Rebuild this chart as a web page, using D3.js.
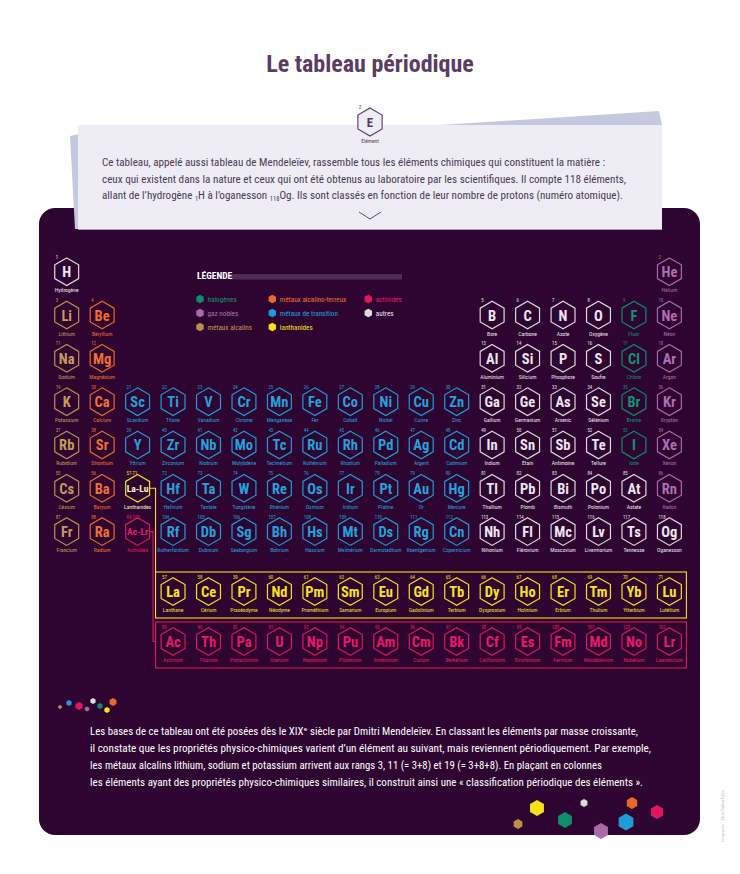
<!DOCTYPE html>
<html>
<head>
<meta charset="utf-8">
<script src="https://cdn.jsdelivr.net/npm/d3@7"></script>
<style>
body { margin: 0; background: #fff; }
svg { display: block; }
text { font-family: 'Liberation Sans Narrow', 'Roboto Condensed', 'DejaVu Sans Condensed', sans-serif; }
</style>
</head>
<body>
<svg id="chart" width="740" height="874"></svg>
<script>
// symboles dans l'ordre du numéro atomique
var symbols = ["H","He","Li","Be","B","C","N","O","F","Ne","Na","Mg","Al","Si","P","S","Cl","Ar",
  "K","Ca","Sc","Ti","V","Cr","Mn","Fe","Co","Ni","Cu","Zn","Ga","Ge","As","Se","Br","Kr",
  "Rb","Sr","Y","Zr","Nb","Mo","Tc","Ru","Rh","Pd","Ag","Cd","In","Sn","Sb","Te","I","Xe",
  "Cs","Ba","La","Ce","Pr","Nd","Pm","Sm","Eu","Gd","Tb","Dy","Ho","Er","Tm","Yb","Lu",
  "Hf","Ta","W","Re","Os","Ir","Pt","Au","Hg","Tl","Pb","Bi","Po","At","Rn",
  "Fr","Ra","Ac","Th","Pa","U","Np","Pu","Am","Cm","Bk","Cf","Es","Fm","Md","No","Lr",
  "Rf","Db","Sg","Bh","Hs","Mt","Ds","Rg","Cn","Nh","Fl","Mc","Lv","Ts","Og"];
var names = ["Hydrogène","Hélium","Lithium","Béryllium","Bore","Carbone","Azote","Oxygène","Fluor","Néon",
  "Sodium","Magnésium","Aluminium","Silicium","Phosphore","Soufre","Chlore","Argon",
  "Potassium","Calcium","Scandium","Titane","Vanadium","Chrome","Manganèse","Fer","Cobalt","Nickel","Cuivre","Zinc",
  "Gallium","Germanium","Arsenic","Sélénium","Brome","Krypton",
  "Rubidium","Strontium","Yttrium","Zirconium","Niobium","Molybdène","Technétium","Ruthénium","Rhodium","Palladium",
  "Argent","Cadmium","Indium","Étain","Antimoine","Tellure","Iode","Xénon",
  "Césium","Baryum","Lanthane","Cérium","Praséodyme","Néodyme","Prométhium","Samarium","Europium","Gadolinium",
  "Terbium","Dysprosium","Holmium","Erbium","Thulium","Ytterbium","Lutétium",
  "Hafnium","Tantale","Tungstène","Rhénium","Osmium","Iridium","Platine","Or","Mercure",
  "Thallium","Plomb","Bismuth","Polonium","Astate","Radon",
  "Francium","Radium","Actinium","Thorium","Protactinium","Uranium","Neptunium","Plutonium","Américium","Curium",
  "Berkélium","Californium","Einsteinium","Fermium","Mendélévium","Nobélium","Lawrencium",
  "Rutherfordium","Dubnium","Seaborgium","Bohrium","Hassium","Meitnérium","Darmstadtium","Roentgenium","Copernicium",
  "Nihonium","Flérovium","Moscovium","Livermorium","Tennesse","Oganesson"];

var halogens = ["F","Cl","Br","I"];
var nobleGases = ["He","Ne","Ar","Kr","Xe","Rn"];
var alkaliMetals = ["Li","Na","K","Rb","Cs","Fr"];
var alkalineEarth = ["Be","Mg","Ca","Sr","Ba","Ra"];
var transitionMetals = ["Sc","Ti","V","Cr","Mn","Fe","Co","Ni","Cu","Zn","Y","Zr","Nb","Mo","Tc","Ru","Rh","Pd","Ag","Cd",
  "Hf","Ta","W","Re","Os","Ir","Pt","Au","Hg","Rf","Db","Sg","Bh","Hs","Mt","Ds","Rg","Cn"];
var lanthanides = ["La","Ce","Pr","Nd","Pm","Sm","Eu","Gd","Tb","Dy","Ho","Er","Tm","Yb","Lu"];
var actinides = ["Ac","Th","Pa","U","Np","Pu","Am","Cm","Bk","Cf","Es","Fm","Md","No","Lr"];

// légende
var legendKeys = ["hal","nob","alk","ear","tra","lan","act","oth"];
var legendLabels = ["halogènes","gaz nobles","métaux alcalins","métaux alcalino-terreux","métaux de transition","lanthanides","actinides","autres"];
var legendColors = ["#0f8c6c","#a96aa8","#b8924c","#e8672a","#1f9bd7","#f6e21c","#e0155c","#dcdcdc"];
var textColors  = ["#12946f","#b06fae","#c49c58","#ef7030","#24a2dd","#f6e21c","#e8186a","#ece6ee"];

// cases de renvoi
var blockSymbols = ["La-Lu","Ac-Lr"];
var blockNumbers = ["57-71","89-103"];
var blockNames = ["Lanthanides","Actinides"];

var introLines = [
  "Ce tableau, appelé aussi tableau de Mendeleïev, rassemble tous les éléments chimiques qui constituent la matière :",
  "ceux qui existent dans la nature et ceux qui ont été obtenus au laboratoire par les scientifiques. Il compte 118 éléments,",
  ["allant de l’hydrogène ", "1", "H à l’oganesson ", "118", "Og. Ils sont classés en fonction de leur nombre de protons (numéro atomique)."]
];
var outroLines = [
  "Les bases de ce tableau ont été posées dès le XIXᵉ siècle par Dmitri Mendeleïev. En classant les éléments par masse croissante,",
  "il constate que les propriétés physico-chimiques varient d’un élément au suivant, mais reviennent périodiquement. Par exemple,",
  "les métaux alcalins lithium, sodium et potassium arrivent aux rangs 3, 11 (= 3+8) et 19 (= 3+8+8). En plaçant en colonnes",
  "les éléments ayant des propriétés physico-chimiques similaires, il construit ainsi une « classification périodique des éléments »."
];
var introWidths = [503, 524, 521];
var outroWidths = [548, 561, 512, 553];

// petits hexagones décoratifs : [x, y, rayon, catégorie]
var decoTop = [[60,707,2,"alk"],[69,703,3,"tra"],[79,706,4,"act"],[87,709,2.5,"nob"],[93,701,3,"oth"],[100,706,3,"hal"],[107,710,3,"lan"],[113,702,4,"ear"]];
var decoBottom = [[518,824,5,"alk"],[537,808,8,"lan"],[565,820,8,"hal"],[584,803,4,"oth"],[601,831,8,"nob"],[626,822,8.5,"tra"],[632,803,6,"ear"],[657,812,7,"act"]];

var svg = d3.select("#chart");
var catColor = d3.scaleOrdinal().domain(legendKeys).range(legendColors);
var catText = d3.scaleOrdinal().domain(legendKeys).range(textColors);

function category(s) {
  if (halogens.indexOf(s) >= 0) return "hal";
  if (nobleGases.indexOf(s) >= 0) return "nob";
  if (alkaliMetals.indexOf(s) >= 0) return "alk";
  if (alkalineEarth.indexOf(s) >= 0) return "ear";
  if (transitionMetals.indexOf(s) >= 0) return "tra";
  if (lanthanides.indexOf(s) >= 0) return "lan";
  if (actinides.indexOf(s) >= 0) return "act";
  return "oth";
}

// ligne / colonne dans le tableau
function place(z) {
  if (z == 1) return [1, 1];
  if (z == 2) return [1, 18];
  if (z <= 10) return [2, z <= 4 ? z - 2 : z + 8];
  if (z <= 18) return [3, z <= 12 ? z - 10 : z];
  if (z <= 36) return [4, z - 18];
  if (z <= 54) return [5, z - 36];
  if (z <= 56) return [6, z - 54];
  if (z <= 71) return [8, z - 53];
  if (z <= 86) return [6, z - 68];
  if (z <= 88) return [7, z - 86];
  if (z <= 103) return [9, z - 85];
  return [7, z - 100];
}

var x = d3.scaleLinear().domain([1, 18]).range([66.7, 669.4]);
var y = d3.scaleLinear().domain([1, 7]).range([271.7, 531.6]);
var yF = d3.scaleLinear().domain([8, 9]).range([591.5, 641.5]);
function rowY(r) { return r <= 7 ? y(r) : yF(r); }

function hex(r) {
  var pts = d3.range(6).map(function(i) {
    var a = Math.PI / 180 * (60 * i - 90);
    return [r * Math.cos(a), r * Math.sin(a)];
  });
  return "M" + pts.join("L") + "Z";
}

// titre
svg.append("text").attr("x", 370).attr("y", 72).attr("text-anchor", "middle")
  .attr("font-size", 24).attr("font-weight", "bold").attr("fill", "#5b3c62")
  .text("Le tableau périodique");

// panneau sombre
svg.append("rect").attr("x", 39).attr("y", 208).attr("width", 661).attr("height", 627)
  .attr("rx", 16).attr("fill", "#2d0530");

// carte d'introduction
svg.append("polygon").attr("points", "70,136 80,134 80,229 75,229").attr("fill", "#c5c9df");
svg.append("polygon").attr("points", "440,125 659,111 662,125").attr("fill", "#c5c9df");
svg.append("rect").attr("x", 78).attr("y", 125).attr("width", 584).attr("height", 104)
  .attr("fill", "#eeecf5");
svg.append("line").attr("x1", 78).attr("x2", 662).attr("y1", 229.5).attr("y2", 229.5)
  .attr("stroke", "#a89cb6").attr("stroke-width", 1);

var eKey = svg.append("g").attr("transform", "translate(370,122)");
eKey.append("path").attr("d", hex(14)).attr("fill", "#eeecf5").attr("stroke", "#5b3c62").attr("stroke-width", 1.1);
eKey.append("text").attr("y", 5).attr("text-anchor", "middle").attr("font-size", 13).attr("font-weight", "bold")
  .attr("fill", "#5b3c62").text("E");
eKey.append("text").attr("x", -11).attr("y", -13).attr("font-size", 4.5).attr("fill", "#5b3c62").text("Z");
eKey.append("text").attr("y", 21).attr("text-anchor", "middle").attr("font-size", 5.5).attr("fill", "#5b3c62").text("Élément");

function writeLines(lines, widths, x0, y0, dy, color) {
  lines.forEach(function(line, i) {
    var t = svg.append("text").attr("x", x0).attr("y", y0 + i * dy)
      .attr("font-size", 11).attr("fill", color)
      .attr("textLength", widths[i]).attr("lengthAdjust", "spacingAndGlyphs");
    if (typeof line === "string") { t.text(line); return; }
    line.forEach(function(part, j) {
      var ts = t.append("tspan").text(part);
      if (j % 2 == 1) ts.attr("font-size", 6.5).attr("dy", 2);
      else if (j > 0) ts.attr("dy", -2);
    });
  });
}
writeLines(introLines, introWidths, 102, 166, 16.5, "#4b3a52");

svg.append("polyline").attr("points", "359,212 370,219 381,212").attr("fill", "none")
  .attr("stroke", "#5b4c74").attr("stroke-width", 1);

// éléments
var elements = symbols.map(function(s, i) {
  var p = place(i + 1);
  return { z: i + 1, sym: s, name: names[i], cat: category(s), row: p[0], col: p[1] };
});

var cells = svg.append("g").selectAll("g.el").data(elements).enter().append("g")
  .attr("class", "el")
  .attr("transform", function(d) { return "translate(" + x(d.col) + "," + rowY(d.row) + ")"; });
cells.append("path").attr("d", hex(13.8)).attr("fill", "none")
  .attr("stroke", function(d) { return catColor(d.cat); }).attr("stroke-width", 1.2);
cells.append("text").attr("y", 5.5).attr("text-anchor", "middle").attr("font-size", 14.5).attr("font-weight", "bold")
  .attr("fill", function(d) { return catText(d.cat); }).text(function(d) { return d.sym; });
cells.append("text").attr("x", -11).attr("y", -13).attr("font-size", 4.8)
  .attr("fill", function(d) { return catText(d.cat); }).text(function(d) { return d.z; });
cells.append("text").attr("y", 20.5).attr("text-anchor", "middle").attr("font-size", 5.6)
  .attr("fill", function(d) { return catText(d.cat); }).text(function(d) { return d.name; });

// cases La-Lu / Ac-Lr
var blocks = blockSymbols.map(function(s, i) {
  return { sym: s, num: blockNumbers[i], name: blockNames[i], cat: i == 0 ? "lan" : "act", row: 6 + i };
});
var bCells = svg.append("g").selectAll("g.blk").data(blocks).enter().append("g")
  .attr("transform", function(d) { return "translate(" + x(3) + "," + y(d.row) + ")"; });
bCells.append("path").attr("d", hex(13.8)).attr("fill", "none")
  .attr("stroke", function(d) { return catColor(d.cat); }).attr("stroke-width", 1.2);
bCells.append("text").attr("y", 3.5).attr("text-anchor", "middle").attr("font-size", 9.5).attr("font-weight", "bold")
  .attr("fill", function(d) { return d.cat == "lan" ? "#fff6c0" : catText(d.cat); }).text(function(d) { return d.sym; });
bCells.append("text").attr("x", -11).attr("y", -13).attr("font-size", 4.8)
  .attr("fill", function(d) { return catText(d.cat); }).text(function(d) { return d.num; });
bCells.append("text").attr("y", 20.5).attr("text-anchor", "middle").attr("font-size", 5.6)
  .attr("fill", function(d) { return d.cat == "lan" ? "#f4efd0" : catText(d.cat); }).text(function(d) { return d.name; });

// cadres des séries f
var boxL = x(4) - 17.5, boxR = x(18) + 17;
[["lan", 8], ["act", 9]].forEach(function(b) {
  svg.append("rect").attr("x", boxL).attr("y", yF(b[1]) - 19.5).attr("width", boxR - boxL).attr("height", 46)
    .attr("fill", "none").attr("stroke", catColor(b[0])).attr("stroke-width", 1.1);
});
svg.append("polyline").attr("fill", "none").attr("stroke", catColor("lan")).attr("stroke-width", 1.1)
  .attr("points", [[x(3) + 12, y(6)], [boxL, y(6)], [boxL, yF(8) - 19.5]].join(" "));
svg.append("polyline").attr("fill", "none").attr("stroke", catColor("act")).attr("stroke-width", 1.1)
  .attr("points", [[x(3) + 12, y(7)], [boxL - 2.5, y(7)], [boxL - 2.5, yF(9)], [boxL, yF(9)]].join(" "));

// légende
var lg = svg.append("g");
lg.append("rect").attr("x", 230).attr("y", 274).attr("width", 172).attr("height", 5.5).attr("fill", "#4e2c54");
lg.append("text").attr("x", 197).attr("y", 279).attr("font-size", 9.5).attr("font-weight", "bold")
  .attr("fill", "#fff").text("LÉGENDE");
var legX = [200, 272.3, 368.3];
var items = lg.selectAll("g.item").data(legendKeys).enter().append("g")
  .attr("transform", function(d, i) { return "translate(" + legX[Math.floor(i / 3)] + "," + (299 + (i % 3) * 14) + ")"; });
items.append("path").attr("d", hex(4.3)).attr("fill", function(d) { return catColor(d); });
items.append("text").attr("x", 7.5).attr("y", 2.5).attr("font-size", 7.2)
  .attr("fill", function(d) { return catText(d); })
  .text(function(d, i) { return legendLabels[i]; });

// texte du bas
writeLines(outroLines, outroWidths, 90, 735, 17, "#fff");

// hexagones décoratifs
svg.append("g").selectAll("path").data(decoTop.concat(decoBottom)).enter().append("path")
  .attr("transform", function(d) { return "translate(" + d[0] + "," + d[1] + ")"; })
  .attr("d", function(d) { return hex(d[2]); })
  .attr("fill", function(d) { return catColor(d[3]); });

// crédit
svg.append("text").attr("transform", "translate(724,842) rotate(-90)").attr("font-size", 4)
  .attr("fill", "#b8b8c0").text("Infographie : Julien Tadiou Tuyon");
</script>
</body>
</html>
